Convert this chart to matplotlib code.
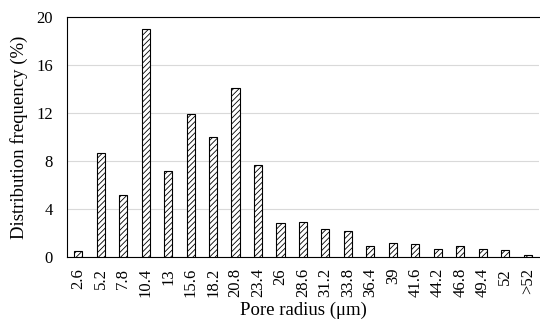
import matplotlib
matplotlib.use('Agg')
import matplotlib.pyplot as plt
import numpy as np

radius_labels = ['2.6', '5.2', '7.8', '10.4', '13', '15.6', '18.2', '20.8', '23.4', '26',
                 '28.6', '31.2', '33.8', '36.4', '39', '41.6', '44.2', '46.8', '49.4', '52', '>52']
frequency = [0.5, 8.7, 5.2, 19.0, 7.2, 11.9, 10.0, 14.1, 7.7, 2.8,
             2.95, 2.3, 2.2, 0.95, 1.2, 1.05, 0.65, 0.9, 0.65, 0.6, 0.15]

plt.rcParams['font.family'] = ['Liberation Serif', 'DejaVu Serif']
plt.rcParams['hatch.linewidth'] = 0.6

fig = plt.figure(figsize=(5.4, 3.26), dpi=100)
ax = fig.add_axes([0.124, 0.212, 0.874, 0.735])

x = np.arange(len(radius_labels))
ax.bar(x, frequency, width=0.36, color='white', edgecolor='black',
       linewidth=0.8, hatch='//////', zorder=3)

ax.set_xlim(-0.5, len(radius_labels) - 0.5)
ax.set_ylim(0, 20)
ax.set_yticks([0, 4, 8, 12, 16, 20])
ax.set_xticks(x)
ax.set_xticklabels(radius_labels, rotation=90, fontsize=12)
ax.tick_params(axis='y', labelsize=12, length=0, pad=10)
ax.tick_params(axis='x', length=0, pad=8)
ax.grid(axis='y', color='#d9d9d9', linewidth=0.8, zorder=0)

for side in ['top', 'left', 'bottom']:
    ax.spines[side].set_color('black')
    ax.spines[side].set_linewidth(0.8)
ax.spines['right'].set_visible(False)

ax.set_ylabel('Distribution frequency (%)', fontsize=13.5, labelpad=6)
ax.set_xlabel('Pore radius (μm)', fontsize=13.5, labelpad=3)

fig.savefig('out.png', dpi=100)
